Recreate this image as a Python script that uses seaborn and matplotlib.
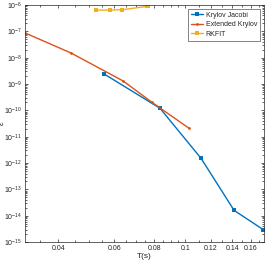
import matplotlib
matplotlib.use("Agg")
import matplotlib.pyplot as plt
import matplotlib.ticker as mticker
import seaborn as sns
import pandas as pd

# Krylov Jacobi
kj_T = [0.0557, 0.0833, 0.112, 0.142, 0.175]
kj_err = [2.4e-9, 1.2e-10, 1.5e-12, 1.6e-14, 3.0e-15]

# Extended Krylov
ek_T = [0.0315, 0.0439, 0.0639, 0.0787, 0.1026]
ek_err = [8.7e-8, 1.5e-8, 1.3e-9, 2.0e-10, 2.1e-11]

# RKFIT
rk_T = [0.0526, 0.0582, 0.0634, 0.0762]
rk_err = [6.4e-7, 6.4e-7, 6.6e-7, 8.9e-7]

xticks = [0.04, 0.06, 0.08, 0.1, 0.12, 0.14, 0.16]
xticklabels = ["0.04", "0.06", "0.08", "0.1", "0.12", "0.14", "0.16"]

sns.set_style("ticks")
plt.rcParams['font.family'] = ['Liberation Sans', 'DejaVu Sans']

fig = plt.figure(figsize=(2.66, 2.62), dpi=100)
ax = fig.add_axes([0.094, 0.076, 0.898, 0.905])

sns.lineplot(x=kj_T, y=kj_err, ax=ax, sort=False, color='#0072BD', marker='s',
             markersize=3, markeredgewidth=0, linewidth=1.0, label='Krylov Jacobi')
sns.lineplot(x=ek_T, y=ek_err, ax=ax, sort=False, color='#D95319', marker='o',
             markersize=2, markeredgewidth=0, linewidth=1.0, label='Extended Krylov')
sns.lineplot(x=rk_T, y=rk_err, ax=ax, sort=False, color='#EDB120', marker='s',
             markersize=3, markeredgewidth=0, linewidth=1.0, label='RKFIT')

ax.set_xscale('log')
ax.set_yscale('log')
ax.set_xlim(0.0315, 0.176)
ax.set_ylim(1e-15, 1e-6)

ax.xaxis.set_major_locator(mticker.FixedLocator(xticks))
ax.xaxis.set_major_formatter(mticker.FixedFormatter(xticklabels))
ax.xaxis.set_minor_locator(mticker.FixedLocator(
    [0.035, 0.045, 0.05, 0.055, 0.065, 0.07, 0.075, 0.085, 0.09, 0.095,
     0.11, 0.13, 0.15, 0.17]))
ax.xaxis.set_minor_formatter(mticker.NullFormatter())
ax.yaxis.set_major_locator(mticker.LogLocator(base=10, numticks=20))
ax.yaxis.set_minor_locator(mticker.LogLocator(base=10, subs=range(2, 10), numticks=20))
ax.yaxis.set_minor_formatter(mticker.NullFormatter())

ax.tick_params(which='both', direction='in', top=True, right=True,
               colors='#262626', labelsize=5, width=0.5, pad=2)
ax.tick_params(which='major', length=2.5)
ax.tick_params(which='minor', length=1.3)
for s in ax.spines.values():
    s.set_linewidth(0.5)
    s.set_color('#262626')

ax.set_xlabel('T(s)', fontsize=6, labelpad=1)
ax.set_ylabel('ε', fontsize=6)
ax.yaxis.set_label_coords(-0.08, 0.5)

leg = ax.legend(loc='upper right', fontsize=5, frameon=True, fancybox=False,
                borderpad=0.4, labelspacing=0.35, handlelength=1.8, handletextpad=0.3,
                borderaxespad=0.6)
leg.get_frame().set_edgecolor('#262626')
leg.get_frame().set_linewidth(0.5)

fig.savefig('out.png', dpi=100)
